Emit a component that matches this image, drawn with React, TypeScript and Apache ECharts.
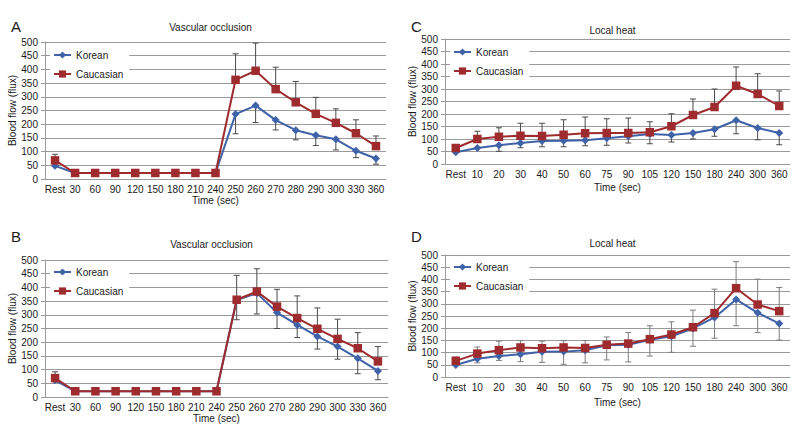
import React, { useEffect, useRef } from "react";
import * as echarts from "echarts";

const catOcclusion = ["Rest", "30", "60", "90", "120", "150", "180", "210", "240", "250", "260", "270", "280", "290", "300", "330", "360"];
const catHeat = ["Rest", "10", "20", "30", "40", "50", "60", "75", "90", "105", "120", "150", "180", "240", "300", "360"];

const aKorean = [48, 22, 22, 22, 22, 22, 22, 22, 22, 237, 268, 215, 178, 160, 145, 103, 75];
const aKoreanLow = [null, null, null, null, null, null, null, null, null, 165, 206, 179, 143, 122, 106, 78, 54];
const aCauc = [68, 22, 22, 22, 22, 22, 22, 22, 22, 362, 395, 328, 280, 238, 205, 167, 120];
const aCaucHigh = [90, null, null, null, null, null, null, null, null, 457, 496, 408, 356, 298, 256, 216, 157];

const bKorean = [61, 21, 21, 21, 21, 21, 21, 21, 21, 354, 379, 308, 263, 221, 184, 141, 95];
const bKoreanLow = [null, null, null, null, null, null, null, null, null, 282, 303, 250, 217, 175, 138, 85, 63];
const bCauc = [69, 21, 21, 21, 21, 21, 21, 21, 21, 355, 385, 330, 288, 249, 212, 178, 130];
const bCaucHigh = [92, null, null, null, null, null, null, null, null, 444, 468, 393, 369, 325, 284, 235, 184];

const cKorean = [47, 64, 75, 84, 92, 93, 95, 103, 111, 120, 116, 124, 139, 175, 144, 124];
const cKoreanLow = [null, null, 51, 65, 69, 69, 73, 75, 84, 81, 88, 100, 111, 121, 97, 77];
const cCauc = [64, 100, 109, 113, 112, 117, 123, 124, 124, 127, 151, 196, 228, 313, 280, 232];
const cCaucHigh = [null, 131, 145, 163, 163, 177, 188, 181, 184, 169, 201, 260, 300, 388, 361, 292];

const dKorean = [49, 75, 86, 93, 103, 104, 110, 130, 132, 153, 167, 199, 244, 318, 263, 219];
const dKoreanLow = [null, 58, 68, 63, 60, 52, 58, 70, 62, 86, 101, 126, 159, 210, 182, 151];
const dCauc = [66, 96, 110, 121, 118, 121, 119, 132, 137, 155, 174, 204, 262, 364, 297, 270];
const dCaucHigh = [82, 123, 147, 149, 147, 149, 149, 164, 182, 210, 226, 274, 360, 473, 401, 367];

const FONT = "'Liberation Sans Narrow', 'Liberation Sans', Arial, sans-serif";
const BLUE = "#3f62a8";
const RED = "#9e2b2e";
const GRID_COLOR = "#9a9a9a";
const TEXT = "#1a1a1a";

type Panel = {
  letter: string;
  title: string;
  cats: string[];
  korean: number[];
  koreanLow: (number | null)[];
  cauc: number[];
  caucHigh: (number | null)[];
  grid: { left: number; top: number; width: number; height: number };
  errColor: string;
  legendTop: number;
  letterTop: number;
  titleTop: number;
  nameGap: number;
};

const panels: Panel[] = [
  { letter: "A", title: "Vascular occlusion", cats: catOcclusion, korean: aKorean, koreanLow: aKoreanLow, cauc: aCauc, caucHigh: aCaucHigh,
    grid: { left: 45, top: 42, width: 341, height: 137 }, errColor: "#4a4a4a", legendTop: 47, letterTop: 19, titleTop: 22, nameGap: 16 },
  { letter: "C", title: "Local heat", cats: catHeat, korean: cKorean, koreanLow: cKoreanLow, cauc: cCauc, caucHigh: cCaucHigh,
    grid: { left: 445, top: 39, width: 345, height: 125 }, errColor: "#4a4a4a", legendTop: 44, letterTop: 19, titleTop: 25, nameGap: 18 },
  { letter: "B", title: "Vascular occlusion", cats: catOcclusion, korean: bKorean, koreanLow: bKoreanLow, cauc: bCauc, caucHigh: bCaucHigh,
    grid: { left: 45, top: 260, width: 343, height: 137 }, errColor: "#4a4a4a", legendTop: 264, letterTop: 229, titleTop: 239, nameGap: 16 },
  { letter: "D", title: "Local heat", cats: catHeat, korean: dKorean, koreanLow: dKoreanLow, cauc: dCauc, caucHigh: dCaucHigh,
    grid: { left: 445, top: 255, width: 345, height: 122 }, errColor: "#7d7d7d", legendTop: 259, letterTop: 229, titleTop: 238, nameGap: 20 },
];

function errData(vals: number[], ends: (number | null)[]) {
  const out: number[][] = [];
  vals.forEach((v, i) => {
    const e = ends[i];
    if (e !== null && e !== undefined) out.push([i, v, e]);
  });
  return out;
}

export default function App() {
  const ref = useRef<HTMLDivElement>(null);
  useEffect(() => {
    if (!ref.current) return;
    const chart = echarts.init(ref.current, undefined, { renderer: "svg" });

    const grids: any[] = [];
    const xAxes: any[] = [];
    const yAxes: any[] = [];
    const series: any[] = [];
    const titles: any[] = [];
    const legends: any[] = [];

    panels.forEach((p, i) => {
      grids.push({ left: p.grid.left, top: p.grid.top, width: p.grid.width, height: p.grid.height, containLabel: false });
      xAxes.push({
        type: "category",
        gridIndex: i,
        data: p.cats,
        boundaryGap: true,
        name: "Time (sec)",
        nameLocation: "middle",
        nameGap: p.nameGap,
        nameTextStyle: { fontFamily: FONT, fontSize: 10, color: TEXT },
        axisLine: { lineStyle: { color: GRID_COLOR } },
        axisTick: { show: false },
        axisLabel: { fontFamily: FONT, fontSize: 10, color: TEXT, interval: 0, margin: 5 },
      });
      yAxes.push({
        type: "value",
        gridIndex: i,
        min: 0,
        max: 500,
        interval: 50,
        name: "Blood flow (flux)",
        nameLocation: "middle",
        nameGap: 24,
        nameTextStyle: { fontFamily: FONT, fontSize: 10, color: TEXT },
        axisLine: { show: true, lineStyle: { color: GRID_COLOR } },
        axisTick: { show: true, length: 4, lineStyle: { color: GRID_COLOR } },
        axisLabel: { fontFamily: FONT, fontSize: 10, color: TEXT, margin: 7 },
        splitLine: { show: true, lineStyle: { color: GRID_COLOR, width: 1 } },
      });

      const errRender = (color: string) => (params: any, api: any) => {
        const x = api.value(0);
        const p0 = api.coord([x, api.value(1)]);
        const p1 = api.coord([x, api.value(2)]);
        return {
          type: "group",
          children: [
            { type: "line", shape: { x1: p0[0], y1: p0[1], x2: p1[0], y2: p1[1] }, style: { stroke: color, lineWidth: 1 } },
            { type: "line", shape: { x1: p1[0] - 3, y1: p1[1], x2: p1[0] + 3, y2: p1[1] }, style: { stroke: color, lineWidth: 1 } },
          ],
        };
      };

      series.push({
        type: "custom",
        name: "errK" + i,
        xAxisIndex: i,
        yAxisIndex: i,
        renderItem: errRender(p.errColor),
        data: errData(p.korean, p.koreanLow),
        encode: { x: 0, y: [1, 2] },
        z: 1,
        silent: true,
      });
      series.push({
        type: "custom",
        name: "errC" + i,
        xAxisIndex: i,
        yAxisIndex: i,
        renderItem: errRender(p.errColor),
        data: errData(p.cauc, p.caucHigh),
        encode: { x: 0, y: [1, 2] },
        z: 1,
        silent: true,
      });
      series.push({
        type: "line",
        name: "Korean",
        xAxisIndex: i,
        yAxisIndex: i,
        data: p.korean,
        symbol: "diamond",
        symbolSize: 8,
        lineStyle: { color: BLUE, width: 2 },
        itemStyle: { color: BLUE },
        z: 3,
      });
      series.push({
        type: "line",
        name: "Caucasian",
        xAxisIndex: i,
        yAxisIndex: i,
        data: p.cauc,
        symbol: "rect",
        symbolSize: 8.5,
        lineStyle: { color: RED, width: 2 },
        itemStyle: { color: RED },
        z: 4,
      });

      titles.push({
        text: p.title,
        left: p.grid.left + p.grid.width / 2 - 5,
        top: p.titleTop,
        padding: 0,
        textAlign: "center",
        textStyle: { fontFamily: FONT, fontSize: 10, fontWeight: "normal", color: TEXT },
      });
      titles.push({
        text: p.letter,
        left: p.grid.left - 34,
        top: p.letterTop,
        padding: 0,
        textStyle: { fontFamily: FONT, fontSize: 15, fontWeight: "normal", color: TEXT },
      });
      legends.push({
        data: ["Korean", "Caucasian"],
        orient: "vertical",
        left: p.grid.left + 5,
        top: p.legendTop,
        itemWidth: 17,
        itemHeight: 9,
        itemGap: 9,
        padding: [3, 6, 3, 3],
        backgroundColor: "#ffffff",
        textStyle: { fontFamily: FONT, fontSize: 10, color: TEXT },
        selectedMode: false,
      });
    });

    chart.setOption({
      animation: false,
      backgroundColor: "#ffffff",
      title: titles,
      legend: legends,
      grid: grids,
      xAxis: xAxes,
      yAxis: yAxes,
      series,
    });
    return () => chart.dispose();
  }, []);
  return <div ref={ref} style={{ position: "fixed", left: 0, top: 0, width: 800, height: 439 }} />;
}
